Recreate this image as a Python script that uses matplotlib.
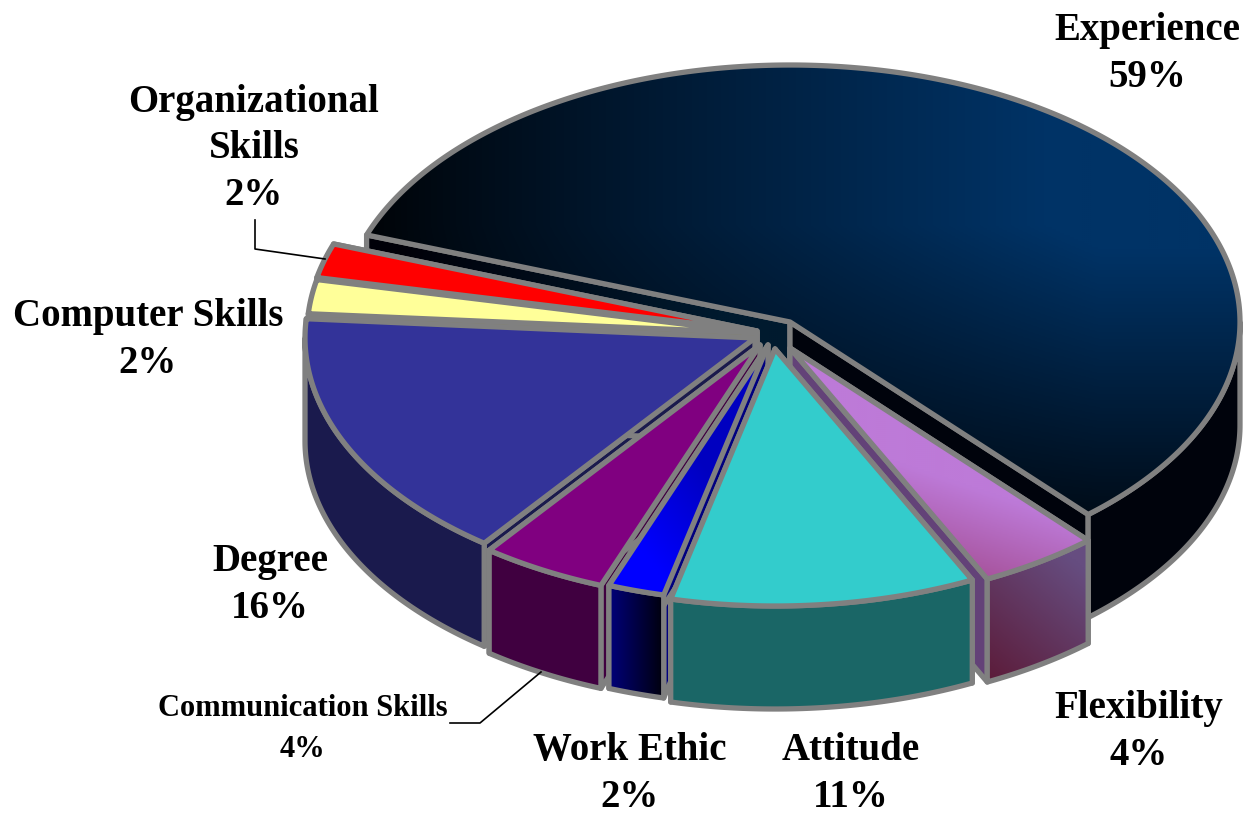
"""Exploded 3D style pie of the skills employers ask for."""
import numpy as np
import matplotlib
matplotlib.use("Agg")
import matplotlib.pyplot as plt
from matplotlib.colors import to_rgb
from matplotlib.patches import Polygon

names = ["Experience", "Organizational\nSkills", "Computer Skills", "Degree",
         "Communication Skills", "Work Ethic", "Attitude", "Flexibility"]
values = [59, 2, 2, 16, 4, 2, 11, 4]

# layout, in reference pixels
START_ANGLE = -50.0
CENTER = (773.0, 335.0)
RX, RY = 450.0, 257.0
DEPTH = 103.0
EXPLODE = [(17, -13), (-16, -4), (-16, -2), (-18, 3), (-13, 10), (-5, 10), (2, 14), (17, 13)]
# the 3D view bends the wedge edges a little away from their true angles
EDGE_SHIFT = [1.5, -2.2, -1.6, -1.1, -1.4, 0.5, 0.6, 0.4, 1.5]
LABEL_POS = [(1147, 54), (254, 149), (148, 340), (270, 585), (303, 729),
             (630, 774), (851, 774), (1139, 732)]
DRAW_ORDER = [0, 1, 2, 3, 4, 7, 5, 6]
GRAY = "#808080"

plt.rcParams["font.family"] = ["Liberation Serif", "DejaVu Serif"]


def linear(c0, c1, p0, p1):
    c0, c1 = np.array(to_rgb(c0)), np.array(to_rgb(c1))
    d = np.array(p1, float) - np.array(p0, float)

    def fill(X, Y):
        t = ((X - p0[0]) * d[0] + (Y - p0[1]) * d[1]) / (d @ d)
        t = np.clip(t, 0, 1)[..., None]
        return c0 + (c1 - c0) * t
    return fill


def experience_top(X, Y):
    fx = np.clip((X - 370) / 730, 0, 1) ** 0.9
    fy = np.clip((575 - Y) / 350, 0, 1)
    f = np.clip(0.07 + fx * fy, 0, 1)[..., None]
    return np.array(to_rgb("#003366")) * f


TOP_FILL = [experience_top, "#ff0000", "#ffff99", "#333399", "#800080",
            linear("#0000ff", "#0000c0", (650, 560), (730, 500)), "#33cccc",
            linear("#a8559f", "#bd7ad8", (985, 575), (1010, 500))]
WALL_FILL = ["#00030c", "#800000", "#80804d", "#1a1a4d", "#400040",
             linear("#00007f", "#000010", (607, 640), (662, 640)), "#1a6666",
             linear("#5c1c3a", "#664d80", (990, 680), (1085, 570))]
CUT_FILL = [linear("#000008", "#001a2e", (400, 240), (720, 300)), "#800000", "#80804d",
            "#1a1a4d", "#400040", "#00007f", "#1a6666", "#634278"]

fig = plt.figure(figsize=(12.47, 8.16), dpi=100)
ax = fig.add_axes([0, 0, 1, 1])
gx, gy = np.meshgrid(np.linspace(0, 1247, 624), np.linspace(0, 816, 408))
zorder = [2]


def face(points, fill):
    z = zorder[0]
    zorder[0] += 1
    if callable(fill):
        clip = Polygon(points, closed=True, transform=ax.transData)
        im = ax.imshow(fill(gx, gy), extent=(0, 1247, 816, 0), origin="upper",
                       aspect="auto", zorder=z)
        im.set_clip_path(clip)
        fill = "none"
    ax.add_patch(Polygon(points, closed=True, facecolor=fill, edgecolor=GRAY,
                         linewidth=3.8, joinstyle="round", zorder=z))


def arc(cx, cy, a0, a1):
    t = np.radians(np.linspace(a0, a1, max(int(abs(a1 - a0)) * 2, 2)))
    return np.column_stack([cx + RX * np.cos(t), cy - RY * np.sin(t)])


edges = START_ANGLE + np.concatenate([[0], np.cumsum(values)]) * 360.0 / sum(values)
edges = edges + np.array(EDGE_SHIFT)

for i in DRAW_ORDER:
    a0, a1 = edges[i], edges[i + 1]
    cx, cy = CENTER[0] + EXPLODE[i][0], CENTER[1] + EXPLODE[i][1]
    apex = np.array([[cx, cy]])
    down = np.array([0, DEPTH])
    rim = arc(cx, cy, a0, a1)

    # cut faces
    for end, fill in ((rim[-1], CUT_FILL[i]), (rim[0], WALL_FILL[i] if i == 0 else CUT_FILL[i])):
        face(np.vstack([apex, [end], [end + down], apex + down]), fill)

    # outer wall, only the part of the rim that faces the viewer
    lo, hi = a0 % 360, (a0 % 360) + (a1 - a0)
    lo = max(lo, 180)
    hi = min(hi, 360)
    if hi > lo:
        front = arc(cx, cy, lo, hi)
        face(np.vstack([front, (front + down)[::-1]]), WALL_FILL[i])

    face(np.vstack([apex, rim]), TOP_FILL[i])

# leader lines
ax.plot([255, 255, 325], [220, 249, 259], color="black", lw=1.2, zorder=zorder[0])
ax.plot([450, 480, 541], [723, 723, 672], color="black", lw=1.2, zorder=zorder[0])

for name, value, (x, y) in zip(names, values, LABEL_POS):
    small = name == "Communication Skills"
    ax.text(x, y, f"{name}\n{value}%", ha="center", va="center", multialignment="center",
            fontsize=22 if small else 28, fontweight="bold", color="black",
            linespacing=1.56 if small else 1.33, zorder=zorder[0] + 1)

ax.set_xlim(0, 1247)
ax.set_ylim(816, 0)
ax.axis("off")
fig.savefig("out.png", dpi=100, facecolor="white")
